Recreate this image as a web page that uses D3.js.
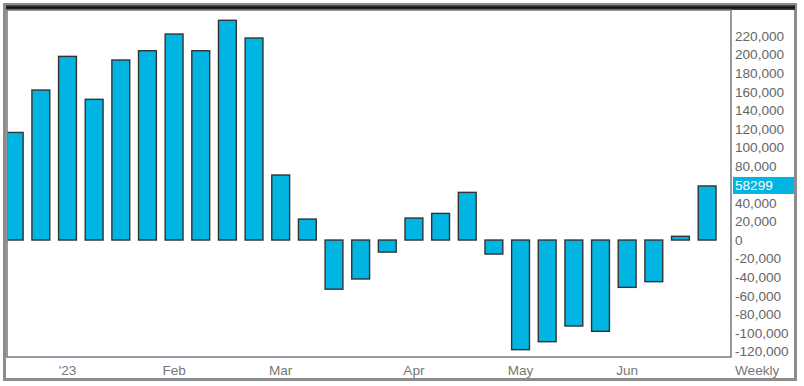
<!DOCTYPE html>
<html>
<head>
<meta charset="utf-8">
<script src="https://cdn.jsdelivr.net/npm/d3@7"></script>
<style>
  body { margin: 0; background: #fff; }
  text { font-family: "Liberation Sans", Arial, sans-serif; font-size: 13.6px; }
</style>
</head>
<body>
<div id="chart"></div>
<script>
// weekly bars, one per Friday
var weeks = ["2022-12-23","2022-12-30","2023-01-06","2023-01-13","2023-01-20","2023-01-27",
  "2023-02-03","2023-02-10","2023-02-17","2023-02-24","2023-03-03","2023-03-10","2023-03-17",
  "2023-03-24","2023-03-31","2023-04-07","2023-04-14","2023-04-21","2023-04-28","2023-05-05",
  "2023-05-12","2023-05-19","2023-05-26","2023-06-02","2023-06-09","2023-06-16","2023-06-23"];
var values = [116000, 161700, 198000, 151700, 194100, 204100, 222100, 204100, 236900, 217800,
  70100, 22600, -53000, -42000, -13000, 23700, 28700, 51400, -15100, -118200,
  -109600, -92700, -98400, -51000, -44900, 4000, 58299];
var monthLabels = ["'23", "Feb", "Mar", "Apr", "May", "Jun"];
var monthWeeks = ["2023-01-06","2023-02-03","2023-03-03","2023-04-07","2023-05-05","2023-06-02"];
var yTicks = [220000, 200000, 180000, 160000, 140000, 120000, 100000, 80000, 40000, 20000, 0,
  -20000, -40000, -60000, -80000, -100000, -120000];
var lastValue = values[values.length - 1];

const W = 804, H = 386;
const plot = {left: 7, top: 10, right: 731, bottom: 357};
const barColor = "#00b5e2";

const svg = d3.select("#chart").append("svg")
  .attr("width", W).attr("height", H);

// outer frame
svg.append("rect")
  .attr("x", 4.5).attr("y", 4.5).attr("width", 791).attr("height", 375)
  .attr("fill", "#fff").attr("stroke", "#8c8c8c").attr("stroke-width", 3);

const grad = svg.append("defs").append("linearGradient")
  .attr("id", "topbar").attr("x1", 0).attr("y1", 0).attr("x2", 0).attr("y2", 1);
grad.append("stop").attr("offset", "0%").attr("stop-color", "#555");
grad.append("stop").attr("offset", "50%").attr("stop-color", "#111");
grad.append("stop").attr("offset", "100%").attr("stop-color", "#444");
svg.append("rect")
  .attr("x", 6).attr("y", 5).attr("width", 789).attr("height", 5)
  .attr("fill", "url(#topbar)");

svg.select("defs").append("clipPath").attr("id", "plotclip")
  .append("rect")
  .attr("x", plot.left).attr("y", plot.top)
  .attr("width", plot.right - plot.left).attr("height", plot.bottom - plot.top);

const x = d3.scaleBand()
  .domain(weeks)
  .range([0.875, 0.875 + 26.65 * weeks.length])
  .paddingInner(0.33)
  .paddingOuter(0.165);

const y = d3.scaleLinear()
  .domain([-126100, 248000])
  .range([plot.bottom, plot.top]);

svg.append("g")
  .attr("clip-path", "url(#plotclip)")
  .selectAll("rect")
  .data(values)
  .join("rect")
  .attr("x", (d, i) => x(weeks[i]))
  .attr("width", x.bandwidth())
  .attr("y", d => y(Math.max(0, d)))
  .attr("height", d => Math.abs(y(d) - y(0)))
  .attr("fill", barColor)
  .attr("stroke", "#333")
  .attr("stroke-width", 1.4);

// plot border
svg.append("rect")
  .attr("x", plot.left).attr("y", plot.top)
  .attr("width", plot.right - plot.left).attr("height", plot.bottom - plot.top)
  .attr("fill", "none").attr("stroke", "#6f7a8c").attr("stroke-width", 1.5);

// y labels on the right
svg.append("g")
  .selectAll("text")
  .data(yTicks)
  .join("text")
  .attr("x", 735)
  .attr("y", d => y(d))
  .attr("dy", "0.36em")
  .attr("fill", "#666")
  .text(d => d3.format(",")(d).replace("−", "-"));

// highlighted last value
svg.append("rect")
  .attr("x", 733).attr("y", y(lastValue) - 9)
  .attr("width", 61).attr("height", 17)
  .attr("fill", barColor);
svg.append("text")
  .attr("x", 735).attr("y", y(lastValue) - 0.5)
  .attr("dy", "0.36em")
  .attr("fill", "#fff")
  .text(lastValue);

// month labels
svg.append("g")
  .selectAll("text")
  .data(monthLabels)
  .join("text")
  .attr("x", (d, i) => x(monthWeeks[i]) + x.bandwidth() / 2)
  .attr("y", 370)
  .attr("dy", "0.36em")
  .attr("text-anchor", "middle")
  .attr("fill", "#777")
  .text(d => d);

svg.append("text")
  .attr("x", 735).attr("y", 370)
  .attr("dy", "0.36em")
  .attr("fill", "#777")
  .text("Weekly");
</script>
</body>
</html>
